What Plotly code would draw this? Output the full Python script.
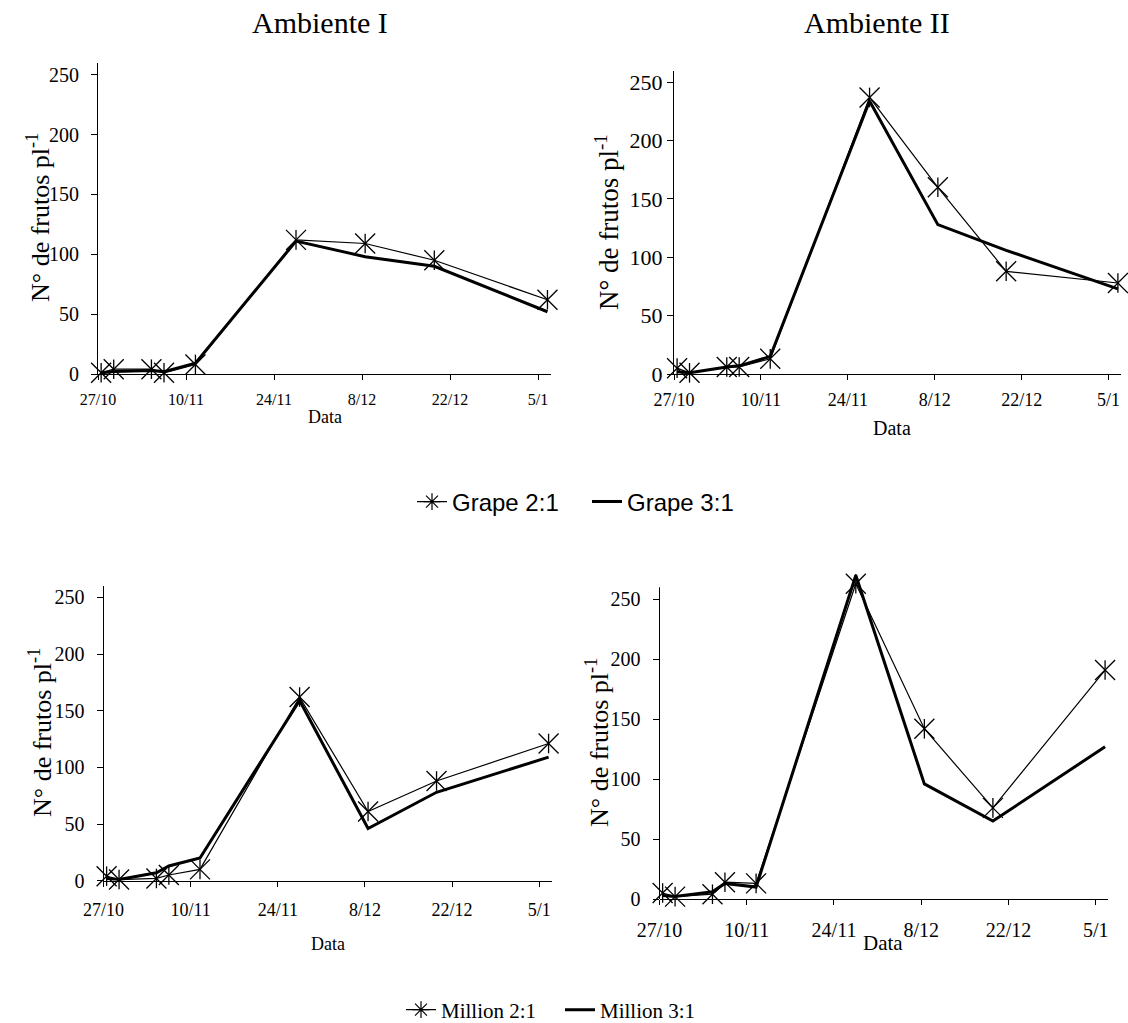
import plotly.graph_objects as go

# ---------------- data ----------------
dates = ["2004-10-27", "2004-10-29", "2004-11-04", "2004-11-06", "2004-11-11",
         "2004-11-27", "2004-12-08", "2004-12-19", "2005-01-06"]
tick_dates = ["2004-10-27", "2004-11-10", "2004-11-24", "2004-12-08", "2004-12-22", "2005-01-05"]
tick_labels = ["27/10", "10/11", "24/11", "8/12", "22/12", "5/1"]
y_ticks = [0, 50, 100, 150, 200, 250]

grape21_amb1 = [1, 4, 4, 1, 8, 112, 109, 95, 62]
grape31_amb1 = [1, 2, 3, 2, 9, 111, 98, 90, 52]
grape21_amb2 = [5, 1, 6, 6, 13, 237, 160, 88, 78]
grape31_amb2 = [2, 1, 6, 7, 15, 234, 128, 106, 73]
million21_amb1 = [4, 1, 2, 5, 10, 162, 61, 88, 121]
million31_amb1 = [2, 1, 7, 13, 20, 159, 46, 78, 109]
million21_amb2 = [5, 2, 4, 14, 13, 263, 142, 76, 191]
million31_amb2 = [3, 2, 6, 13, 10, 270, 96, 65, 127]

titles = ["Ambiente I", "Ambiente II"]
ytitle = "N° de frutos pl<sup>-1</sup>"
xtitle = "Data"

SERIF = "Liberation Serif, Times New Roman, serif"
SANS = "Liberation Sans, Arial, sans-serif"
W, H = 1128, 1023

# Excel date axis with points centred in the day bucket
xs = [d + " 12:00" for d in dates]
x_range = ["2004-10-27", "2005-01-07"]


def fx(px):
    return px / W


def fy(py):
    return 1 - py / H


fig = go.Figure()

panels = [
    ("", grape21_amb1, grape31_amb1),
    ("2", grape21_amb2, grape31_amb2),
    ("3", million21_amb1, million31_amb1),
    ("4", million21_amb2, million31_amb2),
]

for suf, thin, thick in panels:
    xa, ya = "x" + suf, "y" + suf
    fig.add_trace(go.Scatter(
        x=xs, y=thin, mode="lines+markers", xaxis=xa, yaxis=ya,
        line=dict(color="black", width=1.2),
        marker=dict(symbol="x-thin-open", size=20, color="black",
                    line=dict(color="black", width=1.3)),
        cliponaxis=False, showlegend=False, hoverinfo="skip"))
    fig.add_trace(go.Scatter(
        x=xs, y=thin, mode="markers", xaxis=xa, yaxis=ya,
        marker=dict(symbol="line-ns-open", size=14, color="black",
                    line=dict(color="black", width=1.3)),
        cliponaxis=False, showlegend=False, hoverinfo="skip"))
    fig.add_trace(go.Scatter(
        x=xs, y=thick, mode="lines", xaxis=xa, yaxis=ya,
        line=dict(color="black", width=3),
        showlegend=False, hoverinfo="skip"))

# legend entries
fig.add_trace(go.Scatter(x=[None], y=[None], mode="lines+markers", name="Grape 2:1",
                         line=dict(color="black", width=1.2),
                         marker=dict(symbol="asterisk-open", size=14, color="black",
                                     line=dict(color="black", width=1.2)),
                         legend="legend"))
fig.add_trace(go.Scatter(x=[None], y=[None], mode="lines", name="Grape 3:1",
                         line=dict(color="black", width=3), legend="legend"))
fig.add_trace(go.Scatter(x=[None], y=[None], mode="lines+markers", name="Million 2:1",
                         line=dict(color="black", width=1.2),
                         marker=dict(symbol="asterisk-open", size=14, color="black",
                                     line=dict(color="black", width=1.2)),
                         legend="legend2"))
fig.add_trace(go.Scatter(x=[None], y=[None], mode="lines", name="Million 3:1",
                         line=dict(color="black", width=3), legend="legend2"))


def xaxis(dom, anchor, fs, standoff):
    return dict(type="date", domain=dom, anchor=anchor, range=x_range,
                tickmode="array", tickvals=tick_dates, ticktext=tick_labels,
                ticks="outside", ticklen=5, tickcolor="black", tickwidth=1,
                showline=True, linecolor="black", linewidth=1,
                showgrid=False, zeroline=False,
                tickfont=dict(family=SERIF, size=fs, color="black"),
                ticklabelstandoff=standoff, fixedrange=True)


def yaxis(dom, anchor, fs, standoff, top=260, line=True):
    return dict(domain=dom, anchor=anchor, range=[0, top],
                tickmode="array", tickvals=y_ticks,
                ticks="outside", ticklen=6, tickcolor="black", tickwidth=1,
                showline=line, linecolor="black", linewidth=1,
                showgrid=False, zeroline=False,
                tickfont=dict(family=SERIF, size=fs, color="black"),
                ticklabelstandoff=standoff, fixedrange=True)


layout = dict(
    width=W, height=H,
    font=dict(family=SERIF, color="black"),
    margin=dict(l=0, r=0, t=0, b=0, autoexpand=False),
    paper_bgcolor="white", plot_bgcolor="white",
    xaxis=xaxis([fx(98), fx(550.6)], "y", 16, 6),
    yaxis=yaxis([fy(374), fy(62.7)], "x", 20, 8),
    xaxis2=xaxis([fx(674), fx(1121)], "y2", 18, 4),
    yaxis2=yaxis([fy(374), fy(70.6)], "x2", 22, 0),
    xaxis3=xaxis([fx(103.5), fx(551.7)], "y3", 18, 8),
    yaxis3=yaxis([fy(880.7), fy(586)], "x3", 20, 8),
    xaxis4=xaxis([fx(659.5), fx(1108.2)], "y4", 20, 8),
    yaxis4=yaxis([fy(899), fy(569.3)], "x4", 20, 8, top=275, line=False),
    legend=dict(orientation="h", x=fx(587), xanchor="center", y=fy(502), yanchor="middle",
                font=dict(family=SANS, size=24, color="black"),
                bgcolor="rgba(0,0,0,0)", tracegroupgap=0,
                entrywidth=130, entrywidthmode="pixels"),
    legend2=dict(orientation="h", x=fx(560), xanchor="center", y=fy(1010), yanchor="middle",
                 font=dict(family=SERIF, size=21, color="black"),
                 bgcolor="rgba(0,0,0,0)", tracegroupgap=0,
                 entrywidth=114, entrywidthmode="pixels"),
    shapes=[dict(type="line", xref="x4 domain", yref="y4", x0=0, x1=0, y0=0, y1=260,
                 line=dict(color="black", width=1))],
)

ann = []


def add_text(text, px, py, size, angle=0):
    ann.append(dict(text=text, x=fx(px), y=fy(py), xref="paper", yref="paper",
                    xanchor="center", yanchor="middle", showarrow=False, textangle=angle,
                    font=dict(family=SERIF, size=size, color="black")))


add_text(titles[0], 319.5, 23, 30)
add_text(titles[1], 876.7, 23, 30)
add_text(ytitle, 38, 218, 26, -90)
add_text(ytitle, 607, 222, 27, -90)
add_text(ytitle, 40, 733, 26, -90)
add_text(ytitle, 597, 743, 26, -90)
add_text(xtitle, 325, 417, 18)
add_text(xtitle, 892, 428, 20)
add_text(xtitle, 327.5, 944, 18)
add_text(xtitle, 883.3, 943, 21)
layout["annotations"] = ann

fig.update_layout(**layout)
fig.write_html("out.html")
